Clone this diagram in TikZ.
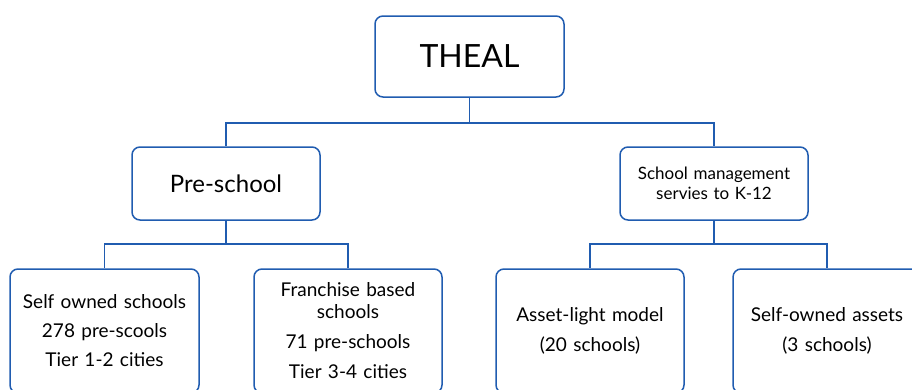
\documentclass[tikz,border=0pt]{standalone}
\usepackage{fontspec}
\setmainfont{Lato}
\usepackage{xcolor}
\usepackage{tikz}
\usetikzlibrary{positioning}
\usetikzlibrary{calc}
\tikzset{>=latex}

\definecolor{orgblue}{RGB}{32,92,176}

\begin{document}
\begin{tikzpicture}[
        x=1pt, y=-1pt,
        orgbox/.style={draw=orgblue, line width=1.5pt, rounded corners=8pt,
            fill=white, align=center, inner sep=2pt},
        branch/.style={draw=orgblue, line width=1.5pt}
    ]

    %=== Canvas ===%
    \useasboundingbox (0,0) rectangle (912,389);
    \clip (0,0) rectangle (912,389);

    % Top level
    \node[orgbox, minimum width=189pt, minimum height=81pt,
        font=\fontsize{32}{36}\selectfont] (theal) at (469.5,56.5) {THEAL};

    %=== Second level ===%
    \node[orgbox, minimum width=188pt, minimum height=73pt,
        font=\fontsize{24}{28}\selectfont] (pre) at (226,183.5) {Pre-school};
    \node[orgbox, minimum width=188pt, minimum height=73pt, text width=180pt,
        font=\fontsize{17}{20}\selectfont] (mgmt) at (714,183.5)
        {School management\\servies to K-12};

    %=== Third level ===%
    \node[orgbox, minimum width=189pt, minimum height=124pt, text width=185pt,
        font=\fontsize{19}{22}\selectfont] (selfown) at (104.5,331)
        {Self owned schools\\[7pt]278 pre-scools\\[7pt]Tier 1-2 cities};
    \node[orgbox, minimum width=188pt, minimum height=124pt, text width=184pt,
        font=\fontsize{19}{22}\selectfont] (franchise) at (348,331)
        {Franchise based\\schools\\[8pt]71 pre-schools\\[8pt]Tier 3-4 cities};
    \node[orgbox, minimum width=188pt, minimum height=124pt, text width=184pt,
        font=\fontsize{19}{22}\selectfont] (assetlight) at (590,331)
        {Asset-light model\\[8pt](20 schools)};
    \node[orgbox, minimum width=188pt, minimum height=124pt, text width=184pt,
        font=\fontsize{19}{22}\selectfont] (selfassets) at (827,331)
        {Self-owned assets\\[8pt](3 schools)};

    % Connectors
    \draw[branch] (theal.south) -- ++(0,25) -| (pre.north);
    \draw[branch] (theal.south) -- ++(0,25) -| (mgmt.north);
    \draw[branch] (pre.south) -- ++(0,23) -| (selfown.north);
    \draw[branch] (pre.south) -- ++(0,23) -| (franchise.north);
    \draw[branch] (mgmt.south) -- ++(0,23) -| (assetlight.north);
    \draw[branch] (mgmt.south) -- ++(0,23) -| (selfassets.north);
\end{tikzpicture}
\end{document}
